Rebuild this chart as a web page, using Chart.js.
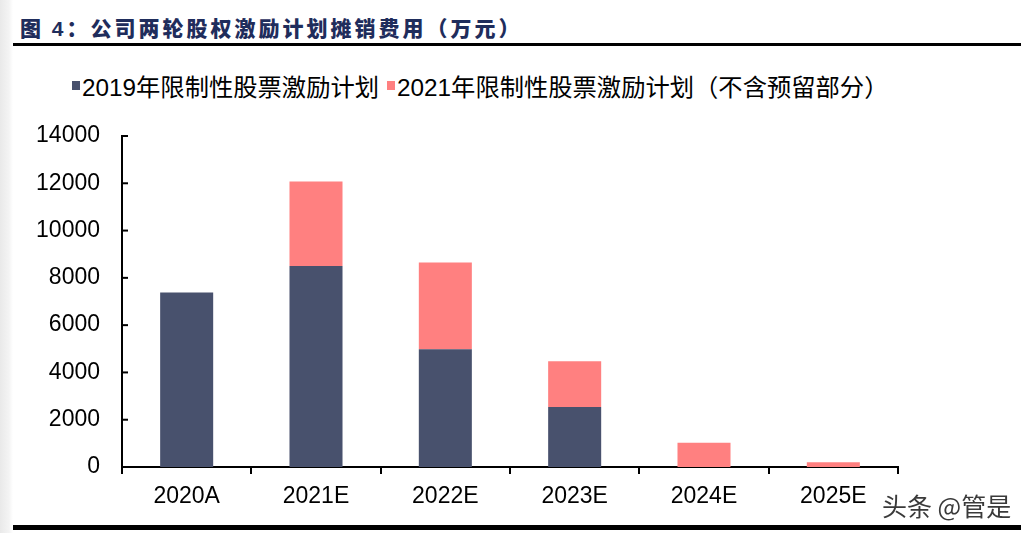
<!DOCTYPE html>
<html>
<head>
<meta charset="utf-8">
<script src="https://cdn.jsdelivr.net/npm/chart.js@4/dist/chart.umd.min.js"></script>
<style>
  html, body { margin: 0; padding: 0; background: #fff; }
  body { width: 1035px; height: 533px; position: relative; overflow: hidden; font-family: "Liberation Sans", "Noto Sans CJK SC", sans-serif; }
  #shade { position: absolute; left: 0; top: 0; width: 13px; height: 533px; background: linear-gradient(to right, #e9e9e9, #f4f4f4 70%, #fff); }
  #title { position: absolute; left: 20px; top: 12px; font: 900 21px "Noto Sans CJK SC", sans-serif; letter-spacing: 3px; color: #1f2d5c; white-space: nowrap; }
  #title .num { font-family: "Liberation Sans", sans-serif; font-weight: bold; }
  #rule1 { position: absolute; left: 13px; top: 43px; width: 1008px; height: 3px; background: #000; }
  #rule2 { position: absolute; left: 13px; top: 525px; width: 1008px; height: 5px; background: #000; }
  #legend { position: absolute; left: 72px; top: 68px; display: flex; align-items: center; font-size: 24.3px; color: #000; white-space: nowrap; }
  #legend .box { width: 8px; height: 9px; margin-right: 2px; }
  #legend .item { display: flex; align-items: center; margin-right: 8px; }
  #wrap { position: absolute; left: 0; top: 110px; width: 1035px; height: 415px; }
  #mark { position: absolute; left: 882px; top: 487px; font: 25px "Noto Sans CJK SC", sans-serif; color: #3a3a3a; text-shadow: 0 0 2px #fff, 0 0 1px #fff; white-space: nowrap; }
</style>
</head>
<body>
<div id="shade"></div>
<div id="title">图 <span class="num">4</span>：公司两轮股权激励计划摊销费用（万元）</div>
<div id="rule1"></div>
<div id="legend"></div>
<div id="wrap"><canvas id="c"></canvas></div>
<div id="mark">头条 @管是</div>
<div id="rule2"></div>
<script>
// 年份
const years = ["2020A", "2021E", "2022E", "2023E", "2024E", "2025E"];
// 万元
const plan2019 = [7380, 8500, 4980, 2540, 0, 0];
const plan2021 = [0, 3580, 3670, 1935, 1030, 200];
const names = ["2019年限制性股票激励计划", "2021年限制性股票激励计划（不含预留部分）"];
const colors = ["#48516d", "#ff8080"];
const yTicks = [0, 2000, 4000, 6000, 8000, 10000, 12000, 14000];

// 图例
const lg = document.getElementById('legend');
names.forEach((n, i) => {
  const it = document.createElement('div');
  it.className = 'item';
  it.innerHTML = '<span class="box" style="background:' + colors[i] + '"></span><span>' + n + '</span>';
  lg.appendChild(it);
});

// y轴刻度朝内
const innerTicks = {
  id: 'innerTicks',
  afterDraw(chart) {
    const y = chart.scales.y, ctx = chart.ctx, x0 = chart.chartArea.left;
    ctx.save();
    ctx.strokeStyle = '#000';
    ctx.lineWidth = 2;
    y.ticks.forEach((t, i) => {
      const py = y.getPixelForTick(i);
      ctx.beginPath();
      ctx.moveTo(x0, py);
      ctx.lineTo(x0 + 6, py);
      ctx.stroke();
    });
    ctx.restore();
  }
};

const tickFont = { family: "Liberation Sans", size: 23 };

new Chart(document.getElementById('c').getContext('2d'), {
  type: 'bar',
  data: {
    labels: years,
    datasets: [
      { label: names[0], data: plan2019, backgroundColor: colors[0] },
      { label: names[1], data: plan2021, backgroundColor: colors[1] }
    ]
  },
  options: {
    responsive: true,
    maintainAspectRatio: false,
    animation: false,
    barPercentage: 0.41,
    categoryPercentage: 1,
    layout: { padding: { top: 26, right: 137, left: 0, bottom: 0 } },
    plugins: { legend: { display: false }, tooltip: { enabled: false } },
    scales: {
      x: {
        stacked: true,
        afterFit: s => { s.height = 58; s.paddingLeft = 0; s.paddingRight = 0; },
        grid: { display: true, drawOnChartArea: false, drawTicks: true, tickLength: 7, color: '#000', lineWidth: 2 },
        border: { display: true, color: '#000', width: 2 },
        ticks: { color: '#000', font: tickFont, padding: 9, maxRotation: 0 }
      },
      y: {
        stacked: true,
        min: 0, max: 14000,
        afterFit: s => { s.width = 122; s.paddingTop = 0; s.paddingBottom = 0; },
        afterBuildTicks: s => { s.ticks = yTicks.map(v => ({ value: v })); },
        grid: { display: false, drawTicks: false },
        border: { display: true, color: '#000', width: 2 },
        ticks: { color: '#000', font: tickFont, padding: 22, callback: v => String(v) }
      }
    }
  },
  plugins: [innerTicks]
});
</script>
</body>
</html>
